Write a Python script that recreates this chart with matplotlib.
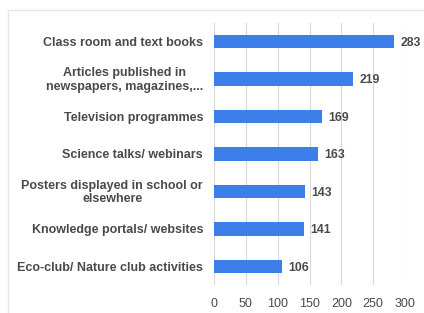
import matplotlib

matplotlib.use("Agg")
import matplotlib.pyplot as plt
import matplotlib.transforms as mtransforms
from matplotlib.patches import Rectangle

# Source counts, top to bottom as in the chart
categories = [
    "Class room and text books",
    "Articles published in\nnewspapers, magazines,...",
    "Television programmes",
    "Science talks/ webinars",
    "Posters displayed in school or\nelsewhere",
    "Knowledge portals/ websites",
    "Eco-club/ Nature club activities",
]
values = [283, 219, 169, 163, 143, 141, 106]
x_ticks = [0, 50, 100, 150, 200, 250, 300]

_BAR = "#3d7fe8"
_INK = "#4a4a4a"
_GRID = "#d9d9d9"

plt.rcParams["font.family"] = ["Liberation Sans", "DejaVu Sans"]

fig = plt.figure(figsize=(4.24, 3.13), dpi=100, facecolor="white")
ax = fig.add_axes([0.505, 0.089, 0.45, 0.838])

pos = list(range(len(categories)))
ax.barh(pos, values, height=0.36, color=_BAR, zorder=2)

val_tr = mtransforms.offset_copy(ax.transData, fig=fig, x=0, y=-0.8,
                                 units="points")
for y, v in zip(pos, values):
    ax.text(v + 10, y, str(v), transform=val_tr, va="center", ha="left",
            fontsize=8.8, fontweight="bold", color=_INK, clip_on=False)

ax.set_xlim(0, 300)
ax.set_ylim(len(categories) - 0.5, -0.5)
ax.set_xticks(x_ticks)
ax.set_yticks(pos)
ax.set_yticklabels([])

# category labels drawn by hand so two-line labels centre their lines
lbl_tr = mtransforms.offset_copy(ax.get_yaxis_transform(), fig=fig,
                                 x=-8, y=-0.8, units="points")
for y, name in zip(pos, categories):
    ax.text(0, y, name, transform=lbl_tr, ha="right", va="center",
            multialignment="center", linespacing=1.2,
            fontsize=9, fontweight="bold", color=_INK, clip_on=False)

ax.tick_params(axis="y", length=0)
ax.tick_params(axis="x", length=0, pad=9, labelsize=9, labelcolor=_INK)
ax.grid(axis="x", color=_GRID, linewidth=0.8, zorder=0)
for s in ax.spines.values():
    s.set_visible(False)

# faint card border around the chart
fig.patches.append(Rectangle((8 / 424, -0.05), 1.2, 1 - 10 / 313 + 0.05,
                             transform=fig.transFigure, fill=False,
                             edgecolor="#e6e6e6", linewidth=1.0))

fig.savefig("out.png", dpi=100, facecolor="white")
